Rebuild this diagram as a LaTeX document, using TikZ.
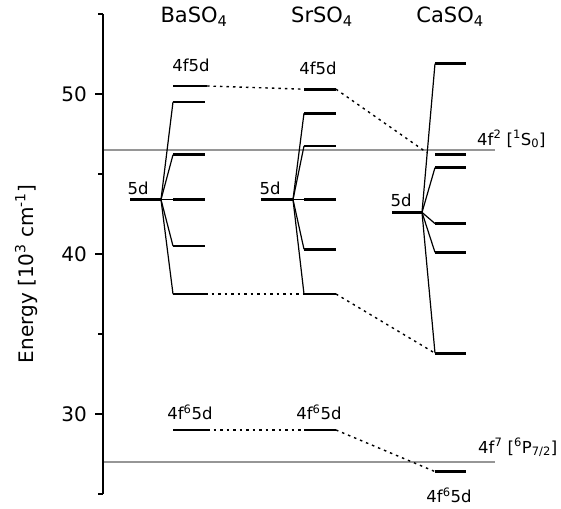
\documentclass[tikz,border=0pt]{standalone}
\usepackage{fontspec}
\setmainfont{DejaVu Sans}
\usetikzlibrary{calc}
\definecolor{refgray}{RGB}{150,150,150}
\tikzset{
  level/.style   = {line width=2.7pt},
  split/.style   = {line width=1.2pt},
  corr/.style    = {line width=1.4pt, dash pattern=on 2.5pt off 4pt},
  refline/.style = {draw=refgray, line width=1.2pt},
  axis/.style    = {line width=1.3pt},
  title/.style   = {font=\fontsize{21}{21}\selectfont, anchor=base, inner sep=0pt},
  lbl/.style     = {font=\fontsize{16.5}{16.5}\selectfont, anchor=base, inner sep=0pt},
  tick/.style    = {font=\fontsize{20}{20}\selectfont, anchor=east, inner sep=0pt},
}

\begin{document}
\begin{tikzpicture}[x=1pt, y=16pt]
  \useasboundingbox (0,24.125) rectangle (561,55.875);

  % reference states
  \draw[refline] (103,46.5) -- (495,46.5);
  \draw[refline] (103,27) -- (495,27);
  \node[lbl, anchor=base west] (s0) at (477,46.81) {4f\textsuperscript{2} [\textsuperscript{1}S\textsubscript{0}]};
  \node[lbl, anchor=base west] (p72) at (478,27.56) {4f\textsuperscript{7} [\textsuperscript{6}P\textsubscript{7/2}]};

  % axis
  \draw[axis] (103,55) -- (103,25);
  \foreach \e in {30,40,50} {
    \draw[axis] (95,\e) -- (103,\e);
    \node[tick] (t\e) at (87,\e) {\e};
  }
  \foreach \e in {25,35,45,55}
    \draw[axis] (98,\e) -- (103,\e);
  \node[font=\fontsize{20}{20}\selectfont, rotate=90, anchor=base, inner sep=0pt] (elabel) at (33,38.75)
    {Energy [10\textsuperscript{3} cm\textsuperscript{-1}]};

  % BaSO4
  \node[title] (batitle) at (194,54.44) {BaSO\textsubscript{4}};
  \coordinate (ba) at (161,43.4);
  \draw[level] (130,43.4) -- (ba);
  \node[lbl] (ba5d) at (138,43.69) {5d};
  \foreach \e [count=\i] in {49.5,46.2,43.4,40.5,37.5} {
    \coordinate (ba\i) at (173,\e);
    \draw[split] (ba) -- (ba\i);
    \draw[level] (ba\i) -- ++(32,0) coordinate (ba\i r);
  }
  \draw[level] (173,50.5) coordinate (batop) -- ++(34,0) coordinate (batopr);
  \draw[level] (173,29) coordinate (balow) -- ++(34,0) coordinate (balowr);
  \node[lbl] (bahigh) at (191,51.375) {4f5d};
  \node[lbl] (bafd) at (190,29.625) {4f\textsuperscript{6}5d};

  % SrSO4
  \node[title] (srtitle) at (322,54.44) {SrSO\textsubscript{4}};
  \coordinate (sr) at (293,43.4);
  \draw[level] (261,43.4) -- (sr);
  \node[lbl] (sr5d) at (270,43.69) {5d};
  \foreach \e [count=\i] in {48.8,46.75,43.4,40.3,37.5} {
    \coordinate (sr\i) at (304,\e);
    \draw[split] (sr) -- (sr\i);
    \draw[level] (sr\i) -- ++(32,0) coordinate (sr\i r);
  }
  \draw[level] (304,50.3) coordinate (srtop) -- ++(32,0) coordinate (srtopr);
  \draw[level] (304,29) coordinate (srlow) -- ++(32,0) coordinate (srlowr);
  \node[lbl] (srhigh) at (318,51.19) {4f5d};
  \node[lbl] (srfd) at (319,29.625) {4f\textsuperscript{6}5d};

  % CaSO4
  \node[title] (catitle) at (450,54.44) {CaSO\textsubscript{4}};
  \coordinate (ca) at (422,42.6);
  \draw[level] (392,42.6) -- (ca);
  \node[lbl] (ca5d) at (401,42.94) {5d};
  \foreach \e [count=\i] in {51.9,45.4,41.9,40.1,33.8} {
    \coordinate (ca\i) at (435,\e);
    \draw[split] (ca) -- (ca\i);
    \draw[level] (ca\i) -- ++(31,0) coordinate (ca\i r);
  }
  \draw[level] (435,46.2) coordinate (catop) -- ++(31,0) coordinate (catopr);
  \draw[level] (435,26.4) coordinate (calow) -- ++(31,0) coordinate (calowr);
  \node[lbl] (cafd) at (449,24.44) {4f\textsuperscript{6}5d};

  % correlations
  \draw[corr] (batopr) -- (srtop);
  \draw[corr] (srtopr) -- ($(ca)!0.4!(ca1)$);
  \draw[corr] (ba5r) -- (sr5);
  \draw[corr] (sr5r) -- (ca5);
  \draw[corr] (balowr) -- (srlow);
  \draw[corr] (srlowr) -- (calow);
\end{tikzpicture}
\end{document}
